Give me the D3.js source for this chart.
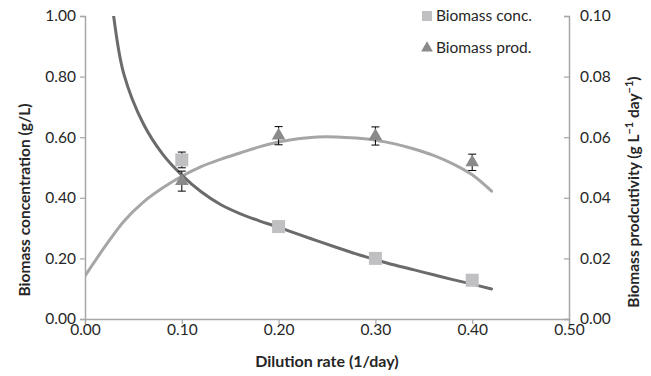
<html>
<script src="https://d3js.org/d3.v7.min.js"></script>
<style>
body { margin: 0; background: #fff; font-family: 'Lato', sans-serif; }
</style>
<body>
<svg id="chart" width="651" height="376"></svg>
<script>
// measured points
const dilution = [0.10, 0.20, 0.30, 0.40];
const concValues = [0.525, 0.305, 0.200, 0.128];
const concErrors = [0.026, 0.004, 0.004, 0.004];
const prodValues = [0.0455, 0.0605, 0.0604, 0.0517];
const prodErrors = [0.0033, 0.0030, 0.0030, 0.0027];

// model curves
const concCurveX = [0.02, 0.03, 0.04, 0.06, 0.08, 0.10, 0.12, 0.14, 0.16, 0.18, 0.20, 0.22, 0.24, 0.26, 0.28, 0.30, 0.32, 0.34, 0.36, 0.38, 0.40, 0.42];
const concCurveY = [1.30, 0.99, 0.81, 0.646, 0.545, 0.475, 0.42, 0.378, 0.348, 0.324, 0.303, 0.280, 0.258, 0.236, 0.215, 0.196, 0.178, 0.162, 0.146, 0.130, 0.115, 0.099];
const prodCurveX = [0.00, 0.02, 0.04, 0.06, 0.08, 0.10, 0.12, 0.14, 0.16, 0.18, 0.20, 0.22, 0.24, 0.26, 0.28, 0.30, 0.32, 0.34, 0.36, 0.38, 0.40, 0.42];
const prodCurveY = [0.0142, 0.0236, 0.0322, 0.0385, 0.0432, 0.0471, 0.0503, 0.0527, 0.0548, 0.0568, 0.0584, 0.0595, 0.0601, 0.0601, 0.0597, 0.0590, 0.0578, 0.0561, 0.0540, 0.0512, 0.0476, 0.0422];

const xTicks = [0, 0.1, 0.2, 0.3, 0.4, 0.5];
const yLeftTicks = [0, 0.2, 0.4, 0.6, 0.8, 1.0];
const yRightTicks = [0, 0.02, 0.04, 0.06, 0.08, 0.10];

const svg = d3.select("svg#chart");
const plotLeft = 85, plotRight = 569, plotTop = 16, plotBottom = 319;

const x = d3.scaleLinear().domain([0, 0.5]).range([plotLeft, plotRight]);
const yL = d3.scaleLinear().domain([0, 1]).range([plotBottom, plotTop]);
const yR = d3.scaleLinear().domain([0, 0.1]).range([plotBottom, plotTop]);

const axisColor = "#a6a6a6";
const textColor = "#262626";

svg.append("clipPath").attr("id", "plot")
    .append("rect").attr("x", plotLeft).attr("y", plotTop).attr("width", plotRight - plotLeft).attr("height", plotBottom - plotTop);

// axes
const xAxis = svg.append("g")
    .attr("transform", "translate(0," + plotBottom + ")")
    .call(d3.axisBottom(x).tickValues(xTicks).tickFormat(d3.format(".2f")).tickSize(5));
const yAxisL = svg.append("g")
    .attr("transform", "translate(" + plotLeft + ",0)")
    .call(d3.axisLeft(yL).tickValues(yLeftTicks).tickFormat(d3.format(".2f")).tickSize(5).tickPadding(4));
const yAxisR = svg.append("g")
    .attr("transform", "translate(" + plotRight + ",0)")
    .call(d3.axisRight(yR).tickValues(yRightTicks).tickFormat(d3.format(".2f")).tickSize(-5));

[xAxis, yAxisL, yAxisR].forEach(g => {
    g.select(".domain").attr("stroke", axisColor).attr("stroke-width", 1.5);
    g.selectAll(".tick line").attr("stroke", axisColor).attr("stroke-width", 1.2);
    g.selectAll(".tick text").attr("fill", textColor).style("font-size", "15.5px").style("font-family", "Lato");
});
xAxis.selectAll(".tick text").attr("y", 5);
yAxisR.selectAll(".tick text").attr("x", 11);

// axis titles
svg.append("text")
    .attr("x", (plotLeft + plotRight) / 2).attr("y", 367)
    .attr("text-anchor", "middle")
    .attr("fill", textColor)
    .style("font-size", "16px").style("font-weight", "bold")
    .text("Dilution rate (1/day)");

svg.append("text")
    .attr("transform", "translate(30,200) rotate(-90)")
    .attr("text-anchor", "middle")
    .attr("fill", textColor)
    .style("font-size", "15.5px").style("font-weight", "bold")
    .text("Biomass concentration (g/L)");

const rt = svg.append("text")
    .attr("transform", "translate(639,192) rotate(-90)")
    .attr("text-anchor", "middle")
    .attr("fill", textColor)
    .style("font-size", "15.5px").style("font-weight", "bold");
rt.append("tspan").text("Biomass prodcutivity (g L");
rt.append("tspan").attr("dy", -6).style("font-size", "11px").text("\u22121");
rt.append("tspan").attr("dy", 6).text(" day");
rt.append("tspan").attr("dy", -6).style("font-size", "11px").text("\u22121");
rt.append("tspan").attr("dy", 6).text(")");

// curves
const plot = svg.append("g").attr("clip-path", "url(#plot)");

const concLine = d3.line().x(d => x(d[0])).y(d => yL(d[1])).curve(d3.curveCatmullRom.alpha(0.5));
const prodLine = d3.line().x(d => x(d[0])).y(d => yR(d[1])).curve(d3.curveCatmullRom.alpha(0.5));

plot.append("path")
    .datum(prodCurveX.map((d, i) => [d, prodCurveY[i]]))
    .attr("d", prodLine)
    .attr("fill", "none").attr("stroke", "#a6a6a6").attr("stroke-width", 3)
    .attr("stroke-linecap", "round");

plot.append("path")
    .datum(concCurveX.map((d, i) => [d, concCurveY[i]]))
    .attr("d", concLine)
    .attr("fill", "none").attr("stroke", "#6b6b6b").attr("stroke-width", 3)
    .attr("stroke-linecap", "round");

// error bars
function errorBars(vals, errs, scale) {
    const g = svg.append("g").attr("stroke", "#000").attr("stroke-width", 1);
    dilution.forEach((d, i) => {
        const cx = x(d), y1 = scale(vals[i] + errs[i]), y2 = scale(vals[i] - errs[i]);
        g.append("line").attr("x1", cx).attr("x2", cx).attr("y1", y1).attr("y2", y2);
        g.append("line").attr("x1", cx - 4).attr("x2", cx + 4).attr("y1", y1).attr("y2", y1);
        g.append("line").attr("x1", cx - 4).attr("x2", cx + 4).attr("y1", y2).attr("y2", y2);
    });
}
errorBars(concValues, concErrors, yL);
errorBars(prodValues, prodErrors, yR);

// markers
const sq = 13;
svg.append("g").selectAll("rect")
    .data(dilution)
    .join("rect")
    .attr("x", d => x(d) - sq / 2)
    .attr("y", (d, i) => yL(concValues[i]) - sq / 2)
    .attr("width", sq).attr("height", sq)
    .attr("fill", "#c0c0c2");

const tri = d3.symbol().type(d3.symbolTriangle).size(80);
svg.append("g").selectAll("path")
    .data(dilution)
    .join("path")
    .attr("transform", (d, i) => "translate(" + x(d) + "," + yR(prodValues[i]) + ")")
    .attr("d", tri)
    .attr("fill", "#8a8a8a");

// legend
const legend = svg.append("g");
legend.append("rect").attr("x", 422).attr("y", 11).attr("width", 10).attr("height", 10).attr("fill", "#c0c0c2");
legend.append("text").attr("x", 436).attr("y", 21).attr("fill", textColor).style("font-size", "15.5px").text("Biomass conc.");
legend.append("path").attr("transform", "translate(427,48)").attr("d", d3.symbol().type(d3.symbolTriangle).size(60)).attr("fill", "#8a8a8a");
legend.append("text").attr("x", 436).attr("y", 53).attr("fill", textColor).style("font-size", "15.5px").text("Biomass prod.");
</script>
</body>
</html>
